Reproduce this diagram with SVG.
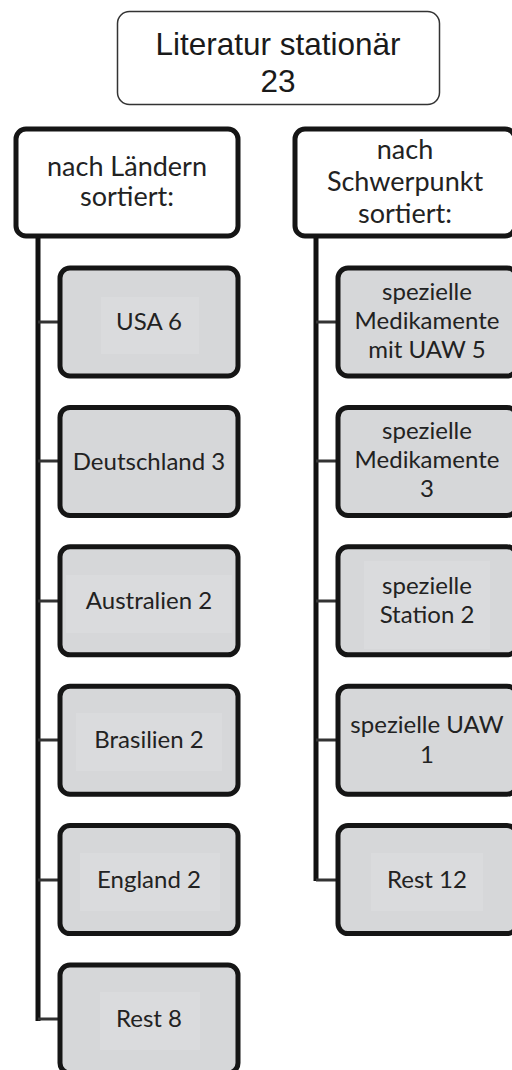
<svg xmlns="http://www.w3.org/2000/svg" width="512" height="1070" viewBox="0 0 512 1070">
<style>
.top{fill:#fff;stroke:#333;stroke-width:1.5}
.l2{fill:#fff;stroke:#151515;stroke-width:5}
.ch{fill:#d6d7d9;stroke:#151515;stroke-width:5}
.inner{fill:#dadbdd}
.t1{font-family:"Liberation Sans",Arial,sans-serif;font-size:31.5px;fill:#1a1a1a;text-anchor:middle}
.t2{font-family:Lato,"Noto Sans",sans-serif;font-size:27px;fill:#222;text-anchor:middle}
.t3{font-family:Lato,"Noto Sans",sans-serif;font-size:24px;fill:#222;text-anchor:middle}
.v{stroke:#111;stroke-width:5;fill:none}
.h{stroke:#333;stroke-width:3;fill:none}
</style>
<g id="connectors">
<path class="v" d="M38 236V1021"/>
<path class="v" d="M316 236V881"/>
<path class="h" d="M38 322H60M38 461H60M38 601H60M38 740H60M38 880H60M38 1019H60"/>
<path class="h" d="M316 322H338M316 461H338M316 601H338M316 740H338M316 880H338"/>
</g>
<g id="root">
<rect class="top" x="117.5" y="11.5" width="322" height="93" rx="12"/>
<text class="t1" x="278" y="55">Literatur stationär</text>
<text class="t1" x="278" y="92">23</text>
</g>
<g id="laender">
<rect class="l2" x="16" y="129" width="222" height="107" rx="10"/>
<text class="t2" x="127" y="176">nach Ländern</text>
<text class="t2" x="127" y="206">sortiert:</text>
</g>
<g id="schwerpunkt">
<rect class="l2" x="295" y="129" width="220" height="107" rx="10"/>
<text class="t2" x="405" y="159">nach</text>
<text class="t2" x="405" y="191">Schwerpunkt</text>
<text class="t2" x="405" y="223">sortiert:</text>
</g>
<g id="usa">
<rect class="ch" x="60" y="268" width="178" height="108" rx="10"/>
<rect class="inner" x="101" y="297" width="98" height="57"/>
<text class="t3" x="149" y="330">USA 6</text>
</g>
<g id="deutschland">
<rect class="ch" x="60" y="407.4" width="178" height="108" rx="10"/>
<text class="t3" x="149" y="470">Deutschland 3</text>
</g>
<g id="australien">
<rect class="ch" x="60" y="546.8" width="178" height="108" rx="10"/>
<rect class="inner" x="66" y="575" width="166" height="58"/>
<text class="t3" x="149" y="609">Australien 2</text>
</g>
<g id="brasilien">
<rect class="ch" x="60" y="686.2" width="178" height="108" rx="10"/>
<rect class="inner" x="76" y="713" width="146" height="58"/>
<text class="t3" x="149" y="748">Brasilien 2</text>
</g>
<g id="england">
<rect class="ch" x="60" y="825.6" width="178" height="108" rx="10"/>
<rect class="inner" x="80" y="853" width="140" height="58"/>
<text class="t3" x="149" y="888">England 2</text>
</g>
<g id="rest8">
<rect class="ch" x="60" y="965" width="178" height="108" rx="10"/>
<rect class="inner" x="100" y="992" width="100" height="58"/>
<text class="t3" x="149" y="1027">Rest 8</text>
</g>
<g id="med_uaw">
<rect class="ch" x="338" y="268" width="179" height="108" rx="10"/>
<text class="t3" x="427" y="300">spezielle</text>
<text class="t3" x="427" y="329">Medikamente</text>
<text class="t3" x="427" y="358">mit UAW 5</text>
</g>
<g id="med">
<rect class="ch" x="338" y="407.4" width="179" height="108" rx="10"/>
<text class="t3" x="427" y="439">spezielle</text>
<text class="t3" x="427" y="468">Medikamente</text>
<text class="t3" x="427" y="497">3</text>
</g>
<g id="station">
<rect class="ch" x="338" y="546.8" width="179" height="108" rx="10"/>
<rect class="inner" x="364" y="561" width="126" height="88"/>
<text class="t3" x="427" y="594">spezielle</text>
<text class="t3" x="427" y="623">Station 2</text>
</g>
<g id="uaw">
<rect class="ch" x="338" y="686.2" width="179" height="108" rx="10"/>
<text class="t3" x="427" y="733">spezielle UAW</text>
<text class="t3" x="427" y="763">1</text>
</g>
<g id="rest12">
<rect class="ch" x="338" y="825.6" width="179" height="108" rx="10"/>
<rect class="inner" x="371" y="853" width="112" height="58"/>
<text class="t3" x="427" y="888">Rest 12</text>
</g>
</svg>
